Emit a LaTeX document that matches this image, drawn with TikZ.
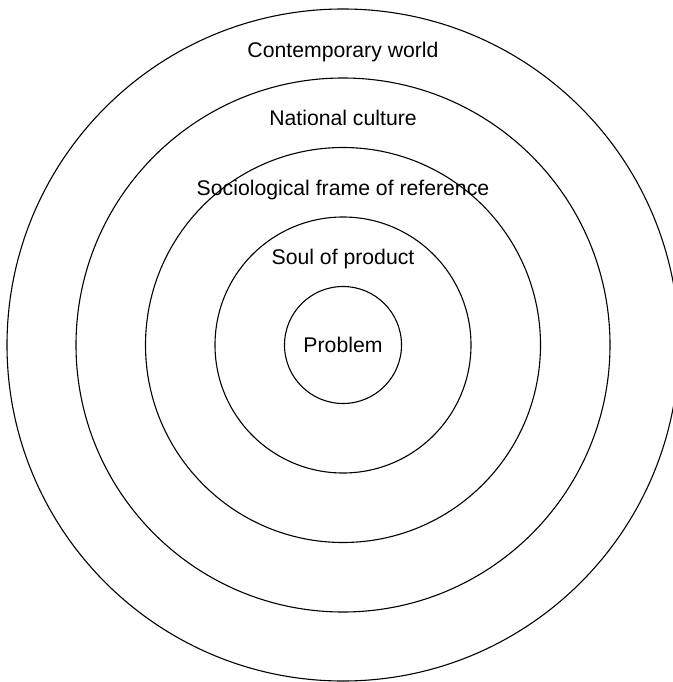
\documentclass[tikz,border=0pt]{standalone}
\usepackage{fontspec}
\setmainfont{Liberation Sans}
\usetikzlibrary{positioning}

\begin{document}
\begin{tikzpicture}[
    x=1bp, y=-1bp,
    every node/.style={font=\fontsize{21.3}{25}\selectfont},
    ring/.style={line width=1.1bp},
]
\useasboundingbox (0,0) rectangle (673,682);
\clip (0,0) rectangle (673,682);
% common centre of all rings
\coordinate (ctr) at (343,345);
% rings, outermost first
\foreach \r in {336,267,197.5,128,58.5}
    \draw[ring] (ctr) circle[radius=\r];
% labels, one per ring
\node (problem) at (ctr) {Problem};
\node (soul) at (343,259) {Soul of product};
\node (frame) at (343,190) {Sociological frame of reference};
\node (nation) at (343,118) {National culture};
\node (world) at (343,52) {Contemporary world};
\end{tikzpicture}
\end{document}
